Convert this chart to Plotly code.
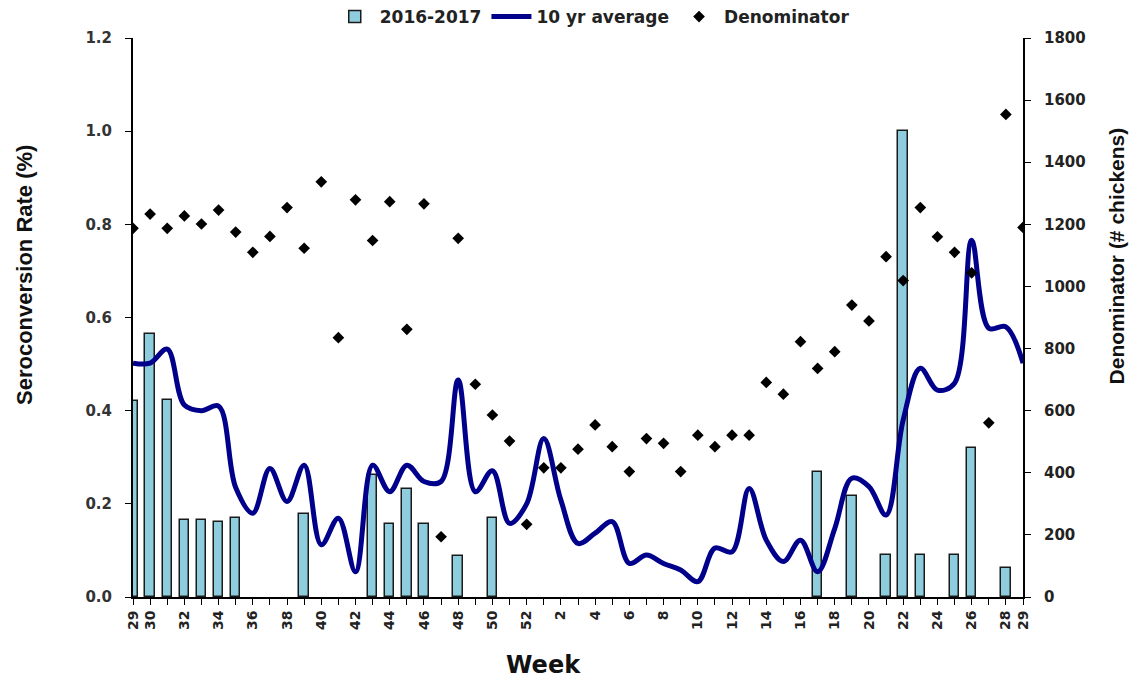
import plotly.graph_objects as go

weeks = list(range(29, 53)) + list(range(1, 30))

rate_2016_2017 = {
    0: 0.42, 1: 0.565, 2: 0.423, 3: 0.165, 4: 0.165, 5: 0.162, 6: 0.169,
    10: 0.178, 14: 0.262, 15: 0.157, 16: 0.231, 17: 0.157, 19: 0.087,
    21: 0.169, 40: 0.268, 42: 0.217, 44: 0.090, 45: 1.0, 46: 0.09,
    48: 0.09, 49: 0.32, 51: 0.063,
}

avg_10yr = [
    0.502, 0.502, 0.532, 0.412, 0.400, 0.410, 0.235, 0.180, 0.276, 0.205,
    0.283, 0.112, 0.169, 0.054, 0.283, 0.226, 0.283, 0.248, 0.248, 0.466,
    0.226, 0.271, 0.158, 0.200, 0.340, 0.208, 0.115, 0.137, 0.162, 0.072,
    0.090, 0.072, 0.058, 0.033, 0.105, 0.097, 0.233, 0.122, 0.076, 0.122,
    0.054, 0.147, 0.255, 0.237, 0.176, 0.380, 0.491, 0.444, 0.459, 0.766,
    0.577, 0.580, 0.502,
]

denominator = [
    1187, 1233, 1187, 1227, 1201, 1246, 1175, 1110, 1161, 1254,
    1123, 1337, 835, 1279, 1148, 1273, 862, 1266, 194, 1155,
    685, 586, 502, 234, 416, 416, 476, 554, 484, 404,
    510, 495, 404, 521, 484, 521, 521, 691, 653, 822,
    736, 790, 940, 889, 1096, 1019, 1254, 1160, 1110, 1044,
    561, 1554, 1190,
]

idx = list(range(len(weeks)))
bar_vals = [rate_2016_2017.get(i) for i in idx]
tick_text = [str(w) if (w % 2 == 0 or i in (0, len(weeks) - 1)) else "" for i, w in enumerate(weeks)]

NARROW = "Liberation Sans, Arial, sans-serif"
WIDE = "DejaVu Sans, Verdana, sans-serif"

fig = go.Figure()
fig.add_trace(go.Bar(
    x=idx, y=bar_vals, name="2016-2017", width=0.55,
    marker=dict(color="#8ECDDD", line=dict(color="#1a1a1a", width=1.5)),
))
fig.add_trace(go.Scatter(
    x=idx, y=avg_10yr, name="10 yr average", mode="lines",
    line=dict(color="#00008B", width=5, shape="spline", smoothing=1.0),
))
fig.add_trace(go.Scatter(
    x=idx, y=denominator, name="Denominator", mode="markers", yaxis="y2",
    marker=dict(symbol="diamond", color="black", size=9),
))

fig.update_layout(
    width=1137, height=681,
    paper_bgcolor="white", plot_bgcolor="white",
    margin=dict(l=125, r=122, t=30, b=92, autoexpand=False),
    font=dict(family=NARROW, color="#222"),
    showlegend=True,
    legend=dict(
        orientation="h", x=0.516, xanchor="center", y=1.0376, yanchor="middle",
        font=dict(family=WIDE, size=17, weight="bold", color="#222"),
        bgcolor="rgba(0,0,0,0)", traceorder="normal", itemwidth=40,
    ),
    bargap=0,
    xaxis=dict(
        range=[0, len(weeks) - 1], tickmode="array", tickvals=idx, ticktext=tick_text,
        tickangle=-90, ticks="outside", ticklen=6, tickcolor="black",
        showline=True, linecolor="black", linewidth=2, showgrid=False, zeroline=False,
        tickfont=dict(family=WIDE, size=14, weight="bold", color="#222"),
    ),
    yaxis=dict(
        range=[0, 1.2], dtick=0.2, tickformat=".1f",
        ticks="outside", ticklen=6, tickcolor="black", ticklabelstandoff=10,
        showline=True, linecolor="black", linewidth=2, showgrid=False, zeroline=False,
        tickfont=dict(family=WIDE, size=15, weight="bold", color="#333"),
    ),
    yaxis2=dict(
        overlaying="y", side="right", range=[0, 1800], dtick=200,
        ticks="outside", ticklen=6, tickcolor="black", ticklabelstandoff=10,
        showline=True, linecolor="black", linewidth=2, showgrid=False, zeroline=False,
        tickfont=dict(family=WIDE, size=15, weight="bold", color="#222"),
    ),
    annotations=[
        dict(text="Week", xref="paper", yref="paper", x=0.4607, y=-0.1216,
             xanchor="center", yanchor="middle", showarrow=False,
             font=dict(family=WIDE, size=24, weight="bold", color="#111")),
        dict(text="Seroconversion Rate (%)", xref="paper", yref="paper", x=-0.1225, y=0.576,
             xanchor="center", yanchor="middle", showarrow=False, textangle=-90,
             font=dict(family=NARROW, size=22, weight="bold", color="#111")),
        dict(text="Denominator (# chickens)", xref="paper", yref="paper", x=1.105, y=0.610,
             xanchor="center", yanchor="middle", showarrow=False, textangle=-90,
             font=dict(family=NARROW, size=21, weight="bold", color="#111")),
    ],
)

fig.write_html("out.html")
